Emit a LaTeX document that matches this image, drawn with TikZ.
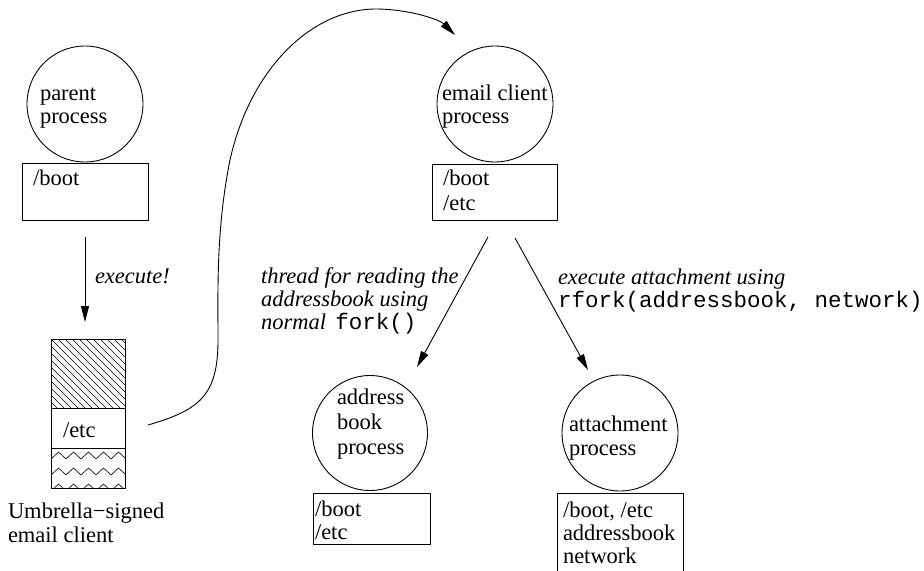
\documentclass[tikz,border=0pt]{standalone}
\usepackage{fontspec}
\setmainfont{Liberation Serif}
\setmonofont{Liberation Mono}
\usetikzlibrary{arrows.meta}
\begin{document}
\begin{tikzpicture}[x=1bp,y=-1bp,
  line width=0.9bp,
  every node/.style={font=\fontsize{22.5bp}{24.5bp}\selectfont, inner sep=0pt, outer sep=0pt},
  proc/.style={draw, circle, minimum size=116bp},
  mem/.style={draw, rectangle, anchor=north west},
  txt/.style={anchor=base west},
  lbl/.style={anchor=base west, font=\fontsize{22.5bp}{24.5bp}\selectfont\itshape},
  arr/.style={-{Triangle[length=16bp,width=8bp]}},
  fine/.style={line width=0.6bp},
]
\useasboundingbox (0,0) rectangle (924,571);
\clip (0,0) rectangle (924,571);

% parent process
\node[proc] (parent) at (85,104) {};
\node[txt] (parentT1) at (40,101) {parent};
\node[txt] (parentT2) at (40,124) {process};
\node[mem, minimum width=126bp, minimum height=57bp] (pbox) at (22,163) {};
\node[txt] (pboxT) at (33,186) {/boot};

% signed binary on disk
\node[mem, minimum width=74bp, minimum height=149bp] (umb) at (51,339) {};
\draw (51,408) -- (125,408);
\draw (51,448) -- (125,448);
\begin{scope}
  \clip (51,339) rectangle (125,408);
  \foreach \k in {-11,...,11}
    \draw[fine] (51+\k*7,339) -- ++(69,69);
\end{scope}
\begin{scope}
  \clip (51,448) rectangle (125,488);
  \foreach \r in {0,1,2}
    \draw[fine] (51,459+16*\r) \foreach \i in {1,...,10} { -- ++(7.5,{7-14*mod(\i,2)}) };
\end{scope}
\node[txt] (umbT) at (63,437) {/etc};
\node[txt] (umbL1) at (8,518) {Umbrella−signed};
\node[txt] (umbL2) at (8,542) {email client};

\draw[arr, shorten <=17bp, shorten >=17bp] (pbox.south) -- (pbox.south |- umb.north);
\node[lbl] (execL) at (95,283) {execute!};

% email client
\node[proc] (email) at (495,104) {};
\node[txt] (emailT1) at (442,101) {email client};
\node[txt] (emailT2) at (442,124) {process};
\node[mem, minimum width=125bp, minimum height=56bp] (ebox) at (432,164) {};
\node[txt] (eboxT1) at (443,186) {/boot};
\node[txt] (eboxT2) at (443,211) {/etc};

\coordinate (cs) at (148,425);
\coordinate (ce) at (455,35);
\draw[arr] (cs) .. controls (200,410) and (218,395) .. (218,340)
  .. controls (218,290) and (216,230) .. (230,160)
  .. controls (250,70) and (310,10) .. (375,9)
  .. controls (410,9) and (440,20) .. (ce);

% address book thread
\node[proc, minimum size=115bp] (addr) at (370,433) {};
\node[txt] (addrT1) at (337,404) {address};
\node[txt] (addrT2) at (337,429) {book};
\node[txt] (addrT3) at (337,454) {process};
\node[mem, minimum width=117bp, minimum height=51bp] (abox) at (313,493) {};
\node[txt] (aboxT1) at (315,516) {/boot};
\node[txt] (aboxT2) at (315,539) {/etc};

% attachment process
\node[proc] (att) at (620,433) {};
\node[txt] (attT1) at (569,431) {attachment};
\node[txt] (attT2) at (569,455) {process};
\node[mem, minimum width=126bp, minimum height=90bp] (tbox) at (557,493) {};
\node[txt] (tboxT1) at (563,517) {/boot, /etc};
\node[txt] (tboxT2) at (563,540) {addressbook};
\node[txt] (tboxT3) at (563,563) {network};

% forks
\coordinate (f1s) at (488,237);
\coordinate (f1e) at (417,367);
\coordinate (f2s) at (515,238);
\coordinate (f2e) at (588,370);
\draw[arr] (f1s) -- (f1e);
\draw[arr] (f2s) -- (f2e);

\node[lbl] (forkL1) at (261,283) {thread for reading the};
\node[lbl] (forkL2) at (261,306) {addressbook using};
\node[lbl] (forkL3) at (261,329) {normal\, \upshape\ttfamily fork()};
\node[lbl] (rforkL1) at (558,284) {execute attachment using};
\node[txt] (rforkL2) at (558,307) {\ttfamily rfork(addressbook, network)};
\end{tikzpicture}
\end{document}
